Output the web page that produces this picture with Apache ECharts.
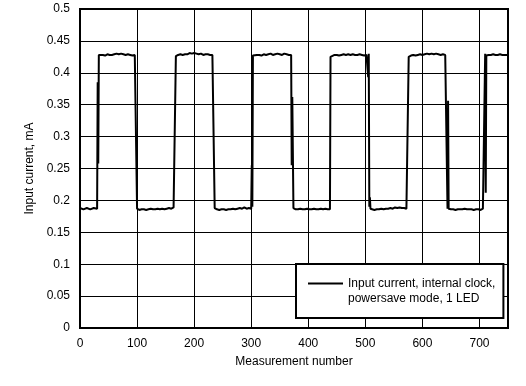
<!DOCTYPE html>
<html><head><meta charset="utf-8">
<script src="https://cdn.jsdelivr.net/npm/echarts@6/dist/echarts.min.js"></script>
<style>html,body{margin:0;padding:0;background:#fff}#c{width:526px;height:386px}</style>
</head><body><div id="c"></div><script>
const seriesName = 'Input current, internal clock,\npowersave mode, 1 LED';
const xAxisName = 'Measurement number';
const yAxisName = 'Input current, mA';
const xRange = [0, 750, 100];
const yRange = [0, 0.5, 0.05];

const measurement = [
  0,3,6,9,12,15,18,21,24,27,30,31,32,33,
  36,40,44,48,52,56,60,64,68,72,76,80,84,88,92,96,99,100,
  104,108,112,116,120,124,128,132,136,140,144,148,152,156,160,164,167,168,
  172,176,180,184,188,192,196,200,204,208,212,216,220,224,228,232,235,236,
  240,244,248,252,256,260,264,268,272,276,280,284,288,292,296,300,301,302,303,
  306,310,314,318,322,326,330,334,338,342,346,350,354,358,362,366,370,371,372,374,
  378,382,386,390,394,398,402,406,410,414,418,422,426,430,434,438,439,
  442,446,450,454,458,462,466,470,474,478,482,486,490,494,498,502,504,505,506,507,508,509,
  512,516,520,524,528,532,536,540,544,548,552,556,560,564,568,572,575,576,
  580,584,588,592,596,600,604,608,612,616,620,624,628,632,636,640,643,644,645,646,
  650,654,658,662,666,670,674,678,682,686,690,694,698,702,706,709,710,711,712,
  716,720,724,728,732,736,740,744,748,750
];
const current = [
  0.188,0.187,0.186,0.187,0.188,0.187,0.186,0.187,0.188,0.187,0.187,0.385,0.258,0.428,
  0.427,0.428,0.427,0.429,0.428,0.428,0.429,0.430,0.429,0.430,0.429,0.428,0.429,0.428,0.427,0.428,0.430,0.187,
  0.185,0.186,0.186,0.185,0.186,0.187,0.186,0.186,0.187,0.186,0.187,0.186,0.187,0.188,0.187,0.189,0.190,0.426,
  0.428,0.429,0.428,0.429,0.429,0.431,0.430,0.431,0.430,0.429,0.430,0.428,0.429,0.429,0.428,0.428,0.427,0.188,
  0.186,0.185,0.186,0.186,0.185,0.186,0.186,0.187,0.186,0.187,0.188,0.187,0.189,0.187,0.188,0.187,0.255,0.190,0.427,
  0.427,0.428,0.428,0.427,0.429,0.428,0.429,0.430,0.428,0.429,0.430,0.429,0.428,0.430,0.429,0.428,0.428,0.255,0.362,0.188,
  0.186,0.186,0.187,0.186,0.186,0.187,0.186,0.186,0.187,0.186,0.186,0.187,0.186,0.187,0.186,0.186,0.425,
  0.427,0.428,0.428,0.427,0.428,0.429,0.428,0.429,0.428,0.429,0.428,0.428,0.429,0.428,0.427,0.428,0.428,0.393,0.430,0.190,0.205,0.187,
  0.186,0.185,0.186,0.186,0.187,0.186,0.187,0.187,0.188,0.187,0.189,0.188,0.189,0.188,0.188,0.187,0.188,0.425,
  0.427,0.428,0.427,0.428,0.429,0.428,0.429,0.430,0.429,0.430,0.429,0.430,0.429,0.428,0.429,0.428,0.428,0.187,0.356,0.187,
  0.186,0.186,0.185,0.186,0.186,0.186,0.187,0.186,0.186,0.186,0.185,0.186,0.186,0.185,0.187,0.188,0.430,0.212,0.427,
  0.428,0.428,0.429,0.428,0.428,0.429,0.428,0.428,0.428,0.428
];

const data = measurement.map((m, i) => [m, current[i]]);
const font = 'Liberation Sans, Arial, sans-serif';
const chart = echarts.init(document.getElementById('c'), null, {renderer: 'canvas'});
chart.setOption({
  animation: false,
  backgroundColor: '#fff',
  textStyle: {fontFamily: font, color: '#000'},
  grid: {left: 80, right: 18, top: 9, bottom: 58, show: true, borderColor: '#000', borderWidth: 2, backgroundColor: 'transparent'},
  xAxis: {
    type: 'value', min: xRange[0], max: xRange[1], interval: xRange[2],
    name: xAxisName, nameLocation: 'middle', nameGap: 28,
    nameTextStyle: {fontSize: 12, color: '#000', fontFamily: font},
    axisLine: {show: false}, axisTick: {show: false},
    axisLabel: {fontSize: 12, color: '#000', margin: 10, fontFamily: font, showMaxLabel: false,
      formatter: v => (v % 100 === 0 ? String(v) : '')},
    splitLine: {show: true, lineStyle: {color: '#000', width: 1}}
  },
  yAxis: {
    type: 'value', min: yRange[0], max: yRange[1], interval: yRange[2],
    name: yAxisName, nameLocation: 'middle', nameGap: 38,
    nameTextStyle: {fontSize: 12, color: '#000', fontFamily: font},
    axisLine: {show: false}, axisTick: {show: false},
    axisLabel: {fontSize: 12, color: '#000', margin: 10, fontFamily: font,
      formatter: v => String(Math.round(v * 100) / 100)},
    splitLine: {show: true, lineStyle: {color: '#000', width: 1}}
  },
  legend: {
    show: true, left: 296, top: 264, orient: 'vertical',
    padding: [12, 8, 12, 12],
    backgroundColor: '#fff', borderColor: '#000', borderWidth: 2, borderRadius: 0,
    itemWidth: 35, itemHeight: 17,
    icon: 'path://M0,0L35,0L35,2L0,2Z M0,17L35,17',
    itemStyle: {borderWidth: 0, color: '#000'},
    textStyle: {fontSize: 12, lineHeight: 15, color: '#000', fontFamily: font},
    data: [seriesName]
  },
  series: [{
    name: seriesName, type: 'line', data: data,
    showSymbol: false, symbol: 'none',
    lineStyle: {color: '#000', width: 2},
    itemStyle: {color: '#000'}
  }]
});
</script></body></html>
